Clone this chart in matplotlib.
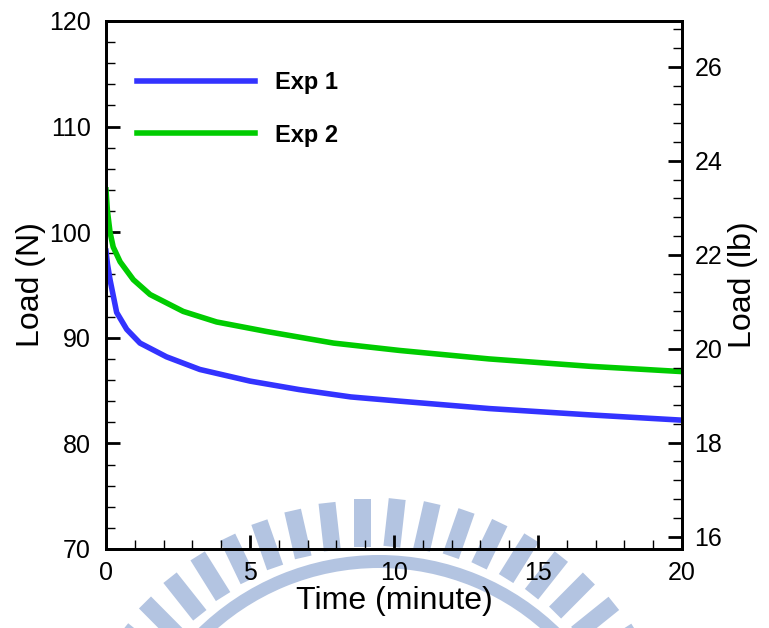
import matplotlib
matplotlib.use("Agg")
import matplotlib.pyplot as plt
import numpy as np
from matplotlib.patches import Rectangle, Wedge
from matplotlib.ticker import MultipleLocator

plt.rcParams['font.family'] = ['Liberation Sans', 'DejaVu Sans']

# data (time in minutes, load in N)
t_exp1 = [0, 0.05, 0.14, 0.37, 0.72, 1.18, 2.1, 3.26, 5.0, 6.7, 8.5, 10.2, 13.3, 16.8, 20]
load_exp1 = [98.2, 97.0, 95.5, 92.4, 90.8, 89.5, 88.2, 87.0, 85.9, 85.1, 84.4, 84.0, 83.3, 82.7, 82.2]

t_exp2 = [0, 0.05, 0.14, 0.25, 0.49, 0.95, 1.53, 2.68, 3.84, 5.57, 7.9, 10.2, 13.3, 16.8, 20]
load_exp2 = [104.0, 102.0, 100.0, 98.6, 97.2, 95.5, 94.1, 92.5, 91.5, 90.6, 89.5, 88.8, 88.0, 87.3, 86.8]

series_labels = ["Exp 1", "Exp 2"]
N_PER_LB = 4.44822

W, H = 769, 628
fig = plt.figure(figsize=(W / 100, H / 100), dpi=100)

# faint logo watermark behind everything
bg = fig.add_axes([0, 0, 1, 1], zorder=0)
bg.set_xlim(0, W)
bg.set_ylim(H, 0)
bg.axis('off')
wm = '#b3c4e1'
cx, cy = 379, 814
r_in, r_out, tooth_w = 267, 315, 17
for ang in np.arange(-83.2, 84, 6.4):
    a = np.deg2rad(ang)
    ux, uy = np.sin(a), -np.cos(a)
    px, py = -uy, ux
    x0 = cx + ux * r_in - px * tooth_w / 2
    y0 = cy + uy * r_in - py * tooth_w / 2
    bg.add_patch(Rectangle((x0, y0), tooth_w, r_out - r_in,
                           angle=np.rad2deg(np.arctan2(uy, ux)) - 90,
                           rotation_point=(x0, y0), color=wm, lw=0))
bg.add_patch(Wedge((cx, cy), 259, 0, 360, width=13, color=wm, lw=0))

ax = fig.add_axes([106 / W, 1 - 549 / H, 576 / W, 528 / H], zorder=1)
ax.patch.set_alpha(0)
ax.plot(t_exp1, load_exp1, color='#3333ff', lw=4, label=series_labels[0])
ax.plot(t_exp2, load_exp2, color='#00cc00', lw=4, label=series_labels[1])

ax.set_xlim(0, 20)
ax.set_ylim(70, 120)
ax.xaxis.set_major_locator(MultipleLocator(5))
ax.xaxis.set_minor_locator(MultipleLocator(1))
ax.yaxis.set_major_locator(MultipleLocator(10))
ax.yaxis.set_minor_locator(MultipleLocator(2))
ax.tick_params(which='both', direction='in', top=False, right=False, labelsize=18)
ax.tick_params(which='major', length=10, width=2)
ax.tick_params(which='minor', length=6.5, width=1)
ax.tick_params(axis='y', pad=11)
ax.tick_params(axis='x', pad=9)
ax.set_xlabel("Time (minute)", fontsize=23, labelpad=0)
ax.set_ylabel("Load (N)", fontsize=23, labelpad=2)

ax2 = ax.twinx()
ax2.set_ylim(70 / N_PER_LB, 120 / N_PER_LB)
ax2.yaxis.set_major_locator(MultipleLocator(2))
ax2.yaxis.set_minor_locator(MultipleLocator(0.4))
ax2.tick_params(which='both', direction='in', labelsize=18, pad=9)
ax2.tick_params(which='major', length=10, width=2)
ax2.tick_params(which='minor', length=6.5, width=1)
ax2.set_ylabel("Load (lb)", fontsize=23, labelpad=4)

for a in (ax, ax2):
    for s in a.spines.values():
        s.set_linewidth(2)

leg = ax.legend(loc='upper left', bbox_to_anchor=(0.054, 0.905), frameon=False,
                handlelength=5.0, handletextpad=0.85, labelspacing=1.25,
                borderpad=0, borderaxespad=0,
                prop={'weight': 'bold', 'size': 17})
for line in leg.get_lines():
    line.set_linewidth(4)

fig.savefig("out.png", dpi=100)
